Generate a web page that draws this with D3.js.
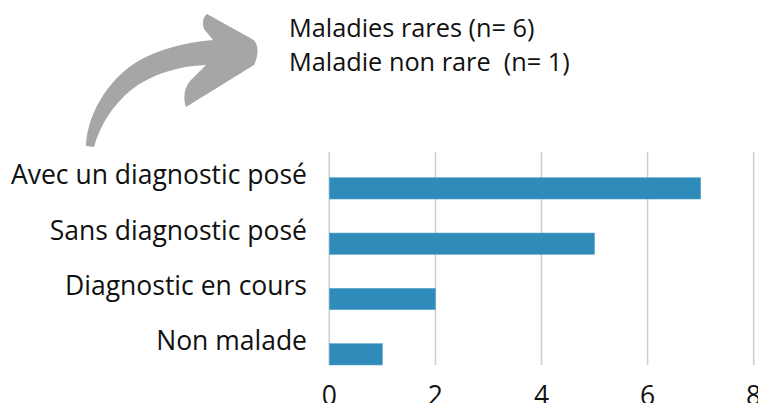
<!DOCTYPE html>
<html lang="fr">
<head>
<meta charset="utf-8" />
<title>Diagnostic</title>
<script src="https://d3js.org/d3.v7.min.js"></script>
<style>
  body { margin: 0; background: #fff; }
  text { font-family: "Open Sans", sans-serif; fill: #111; white-space: pre; }
</style>
</head>
<body>
<div id="chart"></div>
<script>
// data
const categories = ["Avec un diagnostic posé", "Sans diagnostic posé", "Diagnostic en cours", "Non malade"];
const values = [7, 5, 2, 1];
const ticks = [0, 2, 4, 6, 8];
const notes = ["Maladies rares (n= 6)", "Maladie non rare  (n= 1)"];

const W = 758, H = 403;

const svg = d3.select("#chart").append("svg")
  .attr("width", W)
  .attr("height", H);

// scales
const x = d3.scaleLinear().domain([0, 8]).range([329.3, 753.7]);
const y = d3.scaleBand()
  .domain(categories)
  .range([160.7, 382])
  .paddingInner(0.615)
  .paddingOuter(0.3075);

// gridlines
svg.append("g")
  .selectAll("line")
  .data(ticks)
  .join("line")
  .attr("x1", d => x(d))
  .attr("x2", d => x(d))
  .attr("y1", 152)
  .attr("y2", 365)
  .attr("stroke", "#cfcfcf")
  .attr("stroke-width", 1.6);

// bars
svg.append("g")
  .selectAll("rect")
  .data(values)
  .join("rect")
  .attr("x", x(0))
  .attr("y", (d, i) => y(categories[i]))
  .attr("width", d => x(d) - x(0))
  .attr("height", y.bandwidth())
  .attr("fill", "#2e8bba")
  .attr("stroke", "#5aa6cc")
  .attr("stroke-width", 0.6);

// category labels
svg.append("g")
  .selectAll("text")
  .data(categories)
  .join("text")
  .attr("x", 307)
  .attr("y", d => y(d) + y.bandwidth() / 2 - 4)
  .attr("text-anchor", "end")
  .style("font-size", "26.5px")
  .text(d => d);

// x axis tick labels (cut by the bottom edge, as in the original)
svg.append("g")
  .selectAll("text")
  .data(ticks)
  .join("text")
  .attr("x", d => x(d))
  .attr("y", 405)
  .attr("text-anchor", "middle")
  .style("font-size", "26.5px")
  .text(d => d);

// notes at top
svg.append("g")
  .selectAll("text")
  .data(notes)
  .join("text")
  .attr("x", 289)
  .attr("y", (d, i) => 36.7 + i * 34.3)
  .style("font-size", "25.3px")
  .text(d => d);

// curved arrow
svg.append("path")
  .attr("d", "M 86,146 C 87,112 112,72 148,56 C 172,45 193,42 213,40 L 204,29 C 202,22 203,17 207,14 L 252,39 C 259,43 259,55 254,65 L 186,107 C 183,99 184,88 190,81 L 206,65 C 178,66 152,74 131,90 C 113,105 100,125 94,147 Z")
  .attr("fill", "#a6a6a6");
</script>
</body>
</html>
